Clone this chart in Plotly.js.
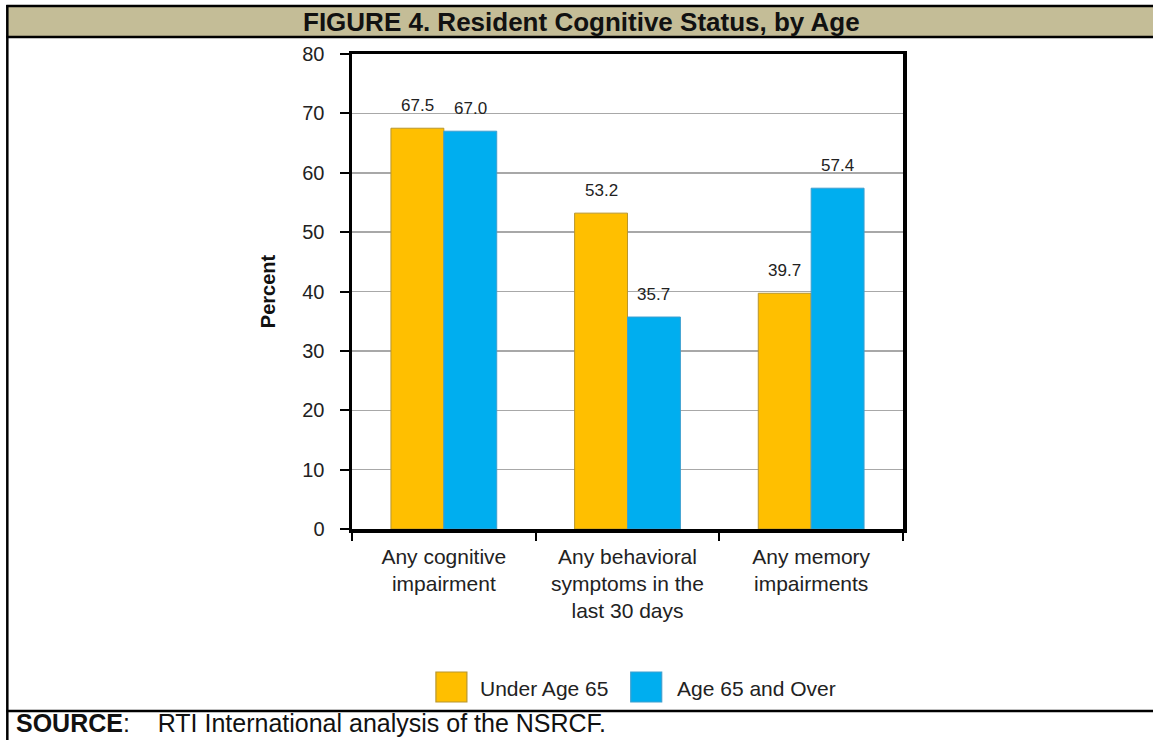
<!DOCTYPE html>
<html>
<head>
<meta charset="utf-8">
<script src="https://cdn.plot.ly/plotly-3.0.1.min.js"></script>
<style>
  html, body { margin: 0; padding: 0; background: #ffffff; }
  #chart { width: 1153px; height: 740px; }
</style>
</head>
<body>
<div id="chart"></div>
<script>
// ---- data ----
const categories = ['Any cognitive impairment', 'Any behavioral symptoms in the last 30 days', 'Any memory impairments'];
const categoryLabels = ['Any cognitive<br>impairment', 'Any behavioral<br>symptoms in the<br>last 30 days', 'Any memory<br>impairments'];
const seriesNames = ['Under Age 65', 'Age 65 and Over'];
const under65 = [67.5, 53.2, 39.7];
const age65Over = [67.0, 35.7, 57.4];
const yTickValues = [0, 10, 20, 30, 40, 50, 60, 70, 80];
const figureTitle = 'FIGURE 4. Resident Cognitive Status, by Age';
const yAxisTitle = 'Percent';
const sourceLabel = 'SOURCE';
const sourceText = 'RTI International analysis of the NSRCF.';

// ---- style ----
const W = 1153, H = 740;
const plotL = 352, plotR = 903.5, plotT = 54, plotB = 529;
const colors = ['#FFBF00', '#00AEEF'];
const lineColors = ['#b8962e', '#3d9fcf'];
const sans = '"Liberation Sans", Arial, sans-serif';
const arial = 'Arial, "Liberation Sans", sans-serif';
const bargap = 0.424;

const px2x = p => (p - plotL) / (plotR - plotL);
const py2y = p => (plotB - p) / (plotB - plotT);

const seriesValues = [under65, age65Over];
const traces = seriesValues.map((vals, i) => ({
  type: 'bar',
  name: seriesNames[i],
  x: categories,
  y: vals,
  marker: { color: colors[i], line: { color: lineColors[i], width: 1 } },
  showlegend: false,
  hoverinfo: 'x+y+name'
}));

const catWidthPx = (plotR - plotL) / categories.length;
const barHalf = catWidthPx * (1 - bargap) / 2 / 2;

const annotations = [];
seriesValues.forEach((vals, i) => {
  vals.forEach((v, j) => {
    annotations.push({
      x: categories[j], y: v, xref: 'x', yref: 'y',
      text: v.toFixed(1), showarrow: false,
      xanchor: 'center', yanchor: 'bottom',
      xshift: (i === 0 ? -1 : 1) * barHalf, yshift: 11,
      font: { family: sans, size: 17, color: '#222' }
    });
  });
});

// title
annotations.push({
  xref: 'paper', yref: 'paper', x: px2x(582), y: py2y(22),
  xanchor: 'center', yanchor: 'middle', showarrow: false,
  text: '<b>' + figureTitle + '</b>',
  font: { family: arial, size: 26, color: '#111' }
});
// source
annotations.push({
  xref: 'paper', yref: 'paper', x: px2x(14), y: py2y(723),
  xanchor: 'left', yanchor: 'middle', showarrow: false,
  text: '<b>' + sourceLabel + '</b>:&nbsp;&nbsp;&nbsp;&nbsp;' + sourceText,
  font: { family: arial, size: 25, color: '#111' }
});

// manual legend
const legendItems = [
  { x0: 436, x1: 467, tx: 478 },
  { x0: 631, x1: 662, tx: 675 }
];
const shapes = [];
legendItems.forEach((it, i) => {
  shapes.push({
    type: 'rect', xref: 'paper', yref: 'paper',
    x0: px2x(it.x0), x1: px2x(it.x1), y0: py2y(672), y1: py2y(702),
    fillcolor: colors[i], line: { color: lineColors[i], width: 1.2 }
  });
  annotations.push({
    xref: 'paper', yref: 'paper', x: px2x(it.tx), y: py2y(688),
    xanchor: 'left', yanchor: 'middle', showarrow: false,
    text: seriesNames[i],
    font: { family: sans, size: 21, color: '#222' }
  });
});

// frame
shapes.push({ type: 'rect', xref: 'paper', yref: 'paper', x0: px2x(6), x1: px2x(W + 5), y0: py2y(6), y1: py2y(37),
  fillcolor: '#c4bd97', line: { width: 0 }, layer: 'below' });
shapes.push({ type: 'line', xref: 'paper', yref: 'paper', x0: px2x(6), x1: px2x(W + 5), y0: py2y(6), y1: py2y(6), line: { color: '#000', width: 2.5 } });
shapes.push({ type: 'line', xref: 'paper', yref: 'paper', x0: px2x(6), x1: px2x(W + 5), y0: py2y(37), y1: py2y(37), line: { color: '#000', width: 2.5 } });
shapes.push({ type: 'line', xref: 'paper', yref: 'paper', x0: px2x(7), x1: px2x(7), y0: py2y(5), y1: py2y(H + 5), line: { color: '#000', width: 2.5 } });
shapes.push({ type: 'line', xref: 'paper', yref: 'paper', x0: px2x(6), x1: px2x(W + 5), y0: py2y(711), y1: py2y(711), line: { color: '#000', width: 2.5 } });

const layout = {
  width: W, height: H, autosize: false,
  margin: { l: plotL, r: W - plotR, t: plotT, b: H - plotB, pad: 0 },
  paper_bgcolor: '#ffffff', plot_bgcolor: '#ffffff',
  barmode: 'group', bargap: bargap, bargroupgap: 0,
  showlegend: false,
  xaxis: {
    type: 'category', tickvals: categories, ticktext: categoryLabels,
    tickson: 'boundaries', ticks: 'outside', ticklen: 8, tickwidth: 2, tickcolor: '#000',
    showline: true, linewidth: 3.5, linecolor: '#000', mirror: true,
    showgrid: false, automargin: false, tickangle: 0,
    tickfont: { family: sans, size: 21, color: '#222' },
    ticklabelstandoff: 6
  },
  yaxis: {
    range: [0, 80], tickvals: yTickValues,
    ticks: 'outside', ticklen: 9, tickwidth: 2, tickcolor: '#000',
    showline: true, linewidth: 3.5, linecolor: '#000', mirror: true,
    showgrid: true, gridcolor: '#a8a8a8', gridwidth: 1.5, zeroline: false,
    automargin: false,
    tickfont: { family: sans, size: 20, color: '#222' },
    ticklabelstandoff: 11,
    title: { text: '<b>' + yAxisTitle + '</b>', font: { family: sans, size: 20, color: '#111' }, standoff: 22 }
  },
  shapes: shapes,
  annotations: annotations
};

Plotly.newPlot('chart', traces, layout, { displayModeBar: false, staticPlot: true });
</script>
</body>
</html>
